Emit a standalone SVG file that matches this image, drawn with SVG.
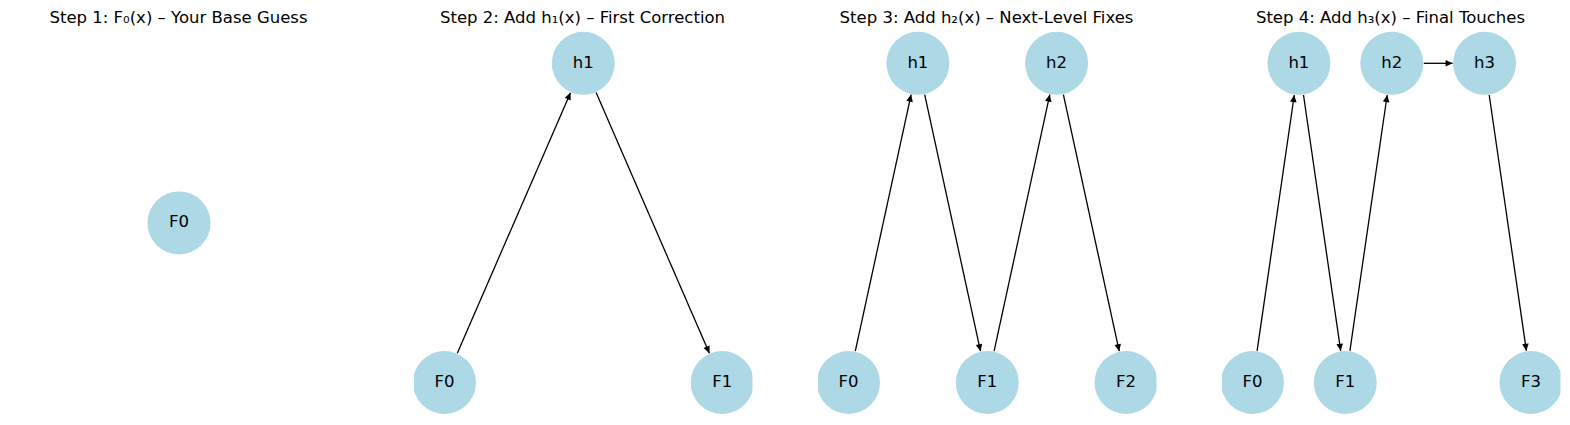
<svg xmlns="http://www.w3.org/2000/svg" width="1570" height="425" viewBox="0 0 1570 425">
<style>
.title{font-family:"DejaVu Sans",sans-serif;font-size:16.5px;fill:#000;text-anchor:middle}
.node circle{fill:#add8e6}
.node text{font-family:"DejaVu Sans",sans-serif;font-size:16.5px;fill:#000;text-anchor:middle}
.edges line{stroke:#000;stroke-width:1.3;marker-end:url(#arr)}
</style>
<defs>
<marker id="arr" markerWidth="10" markerHeight="10" refX="9" refY="5" orient="auto" markerUnits="userSpaceOnUse">
<path d="M2,1.7 L9,5 L2,8.3 z" fill="#000"/>
</marker>
<clipPath id="ax1"><rect x="10" y="0" width="338.5" height="425"/></clipPath>
<clipPath id="ax2"><rect x="414" y="0" width="338.5" height="425"/></clipPath>
<clipPath id="ax3"><rect x="818" y="0" width="338.5" height="425"/></clipPath>
<clipPath id="ax4"><rect x="1222" y="0" width="338.5" height="425"/></clipPath>
</defs>
<rect width="1570" height="425" fill="#fff"/>
<text class="title" x="178.5" y="22.5">Step 1: F₀(x) – Your Base Guess</text>
<text class="title" x="582.5" y="22.5">Step 2: Add h₁(x) – First Correction</text>
<text class="title" x="986.5" y="22.5">Step 3: Add h₂(x) – Next-Level Fixes</text>
<text class="title" x="1390.5" y="22.5">Step 4: Add h₃(x) – Final Touches</text>

<g id="panel1" clip-path="url(#ax1)">
<g id="s1-F0" class="node"><circle cx="179" cy="222.9" r="31.5"/><text x="179" y="227.4">F0</text></g>
</g>

<g id="panel2" clip-path="url(#ax2)">
<g id="s2-edges" class="edges">
<line x1="457.3" y1="353.2" x2="570.5" y2="92.7"/>
<line x1="596.1" y1="92.6" x2="709.4" y2="353.2"/>
</g>
<g id="s2-h1" class="node"><circle cx="583.3" cy="63.3" r="31.5"/><text x="583.3" y="67.8">h1</text></g>
<g id="s2-F0" class="node"><circle cx="444.5" cy="382.5" r="31.5"/><text x="444.5" y="387">F0</text></g>
<g id="s2-F1" class="node"><circle cx="722.2" cy="382.5" r="31.5"/><text x="722.2" y="387">F1</text></g>
</g>

<g id="panel3" clip-path="url(#ax3)">
<g id="s3-edges" class="edges">
<line x1="855.3" y1="351.2" x2="911.1" y2="94.6"/>
<line x1="924.7" y1="94.6" x2="980.5" y2="351.2"/>
<line x1="994.1" y1="351.2" x2="1049.8" y2="94.6"/>
<line x1="1063.4" y1="94.6" x2="1119.2" y2="351.2"/>
</g>
<g id="s3-h1" class="node"><circle cx="917.9" cy="63.3" r="31.5"/><text x="917.9" y="67.8">h1</text></g>
<g id="s3-h2" class="node"><circle cx="1056.6" cy="63.3" r="31.5"/><text x="1056.6" y="67.8">h2</text></g>
<g id="s3-F0" class="node"><circle cx="848.5" cy="382.5" r="31.5"/><text x="848.5" y="387">F0</text></g>
<g id="s3-F1" class="node"><circle cx="987.3" cy="382.5" r="31.5"/><text x="987.3" y="387">F1</text></g>
<g id="s3-F2" class="node"><circle cx="1126" cy="382.5" r="31.5"/><text x="1126" y="387">F2</text></g>
</g>

<g id="panel4" clip-path="url(#ax4)">
<g id="s4-edges" class="edges">
<line x1="1257.1" y1="350.8" x2="1294.3" y2="95"/>
<line x1="1303.5" y1="95" x2="1340.7" y2="350.8"/>
<line x1="1349.9" y1="350.8" x2="1387.2" y2="95"/>
<line x1="1423.8" y1="63.3" x2="1452.6" y2="63.3"/>
<line x1="1489.2" y1="95" x2="1526.4" y2="350.8"/>
</g>
<g id="s4-h1" class="node"><circle cx="1298.9" cy="63.3" r="31.5"/><text x="1298.9" y="67.8">h1</text></g>
<g id="s4-h2" class="node"><circle cx="1391.8" cy="63.3" r="31.5"/><text x="1391.8" y="67.8">h2</text></g>
<g id="s4-h3" class="node"><circle cx="1484.6" cy="63.3" r="31.5"/><text x="1484.6" y="67.8">h3</text></g>
<g id="s4-F0" class="node"><circle cx="1252.5" cy="382.5" r="31.5"/><text x="1252.5" y="387">F0</text></g>
<g id="s4-F1" class="node"><circle cx="1345.3" cy="382.5" r="31.5"/><text x="1345.3" y="387">F1</text></g>
<g id="s4-F3" class="node"><circle cx="1531" cy="382.5" r="31.5"/><text x="1531" y="387">F3</text></g>
</g>
</svg>
